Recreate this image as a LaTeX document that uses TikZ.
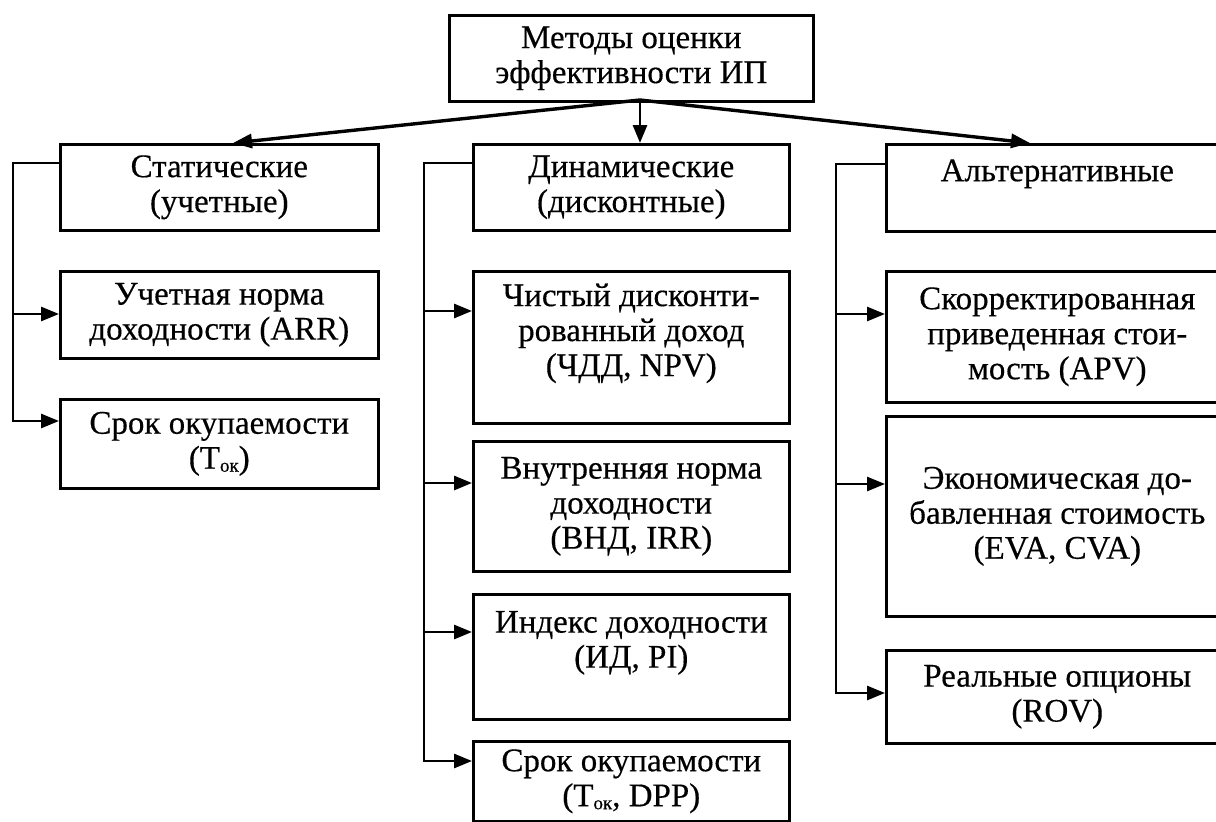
\documentclass[tikz,border=0pt]{standalone}
\usepackage{fontspec}
\setmainfont{Liberation Serif}[FakeBold=0.4]
\usetikzlibrary{arrows.meta}
\newcommand{\subok}{\raisebox{-3pt}{\fontsize{19pt}{19pt}\selectfont ок}}
\begin{document}
\begin{tikzpicture}[x=1pt,y=-1pt,
  box/.style={draw, line width=2.6pt, rectangle, inner sep=0pt, align=center,
    anchor=north west, font=\fontsize{33pt}{35pt}\selectfont},
  conn/.style={line width=2.8pt, -{Triangle[length=18pt,width=14pt]}},
  diag/.style={line width=3.4pt, -{Triangle[length=19pt,width=14pt]}}]
\useasboundingbox (0,0) rectangle (1216,822);
\fill[white] (0,0) rectangle (1216,822);

% top
\node[box, minimum width=364pt, minimum height=86pt] (top) at (448,14)
  {Методы оценки\\эффективности ИП};

% static column
\node[box, minimum width=318pt, minimum height=86pt] (stat) at (59,143)
  {Статические\\(учетные)};
\node[box, minimum width=318pt, minimum height=87pt] (arr) at (59,270)
  {Учетная норма\\доходности (ARR)};
\node[box, minimum width=318pt, minimum height=89pt] (srokA) at (59,398)
  {Срок окупаемости\\(Т\subok)};

% dynamic column
\node[box, minimum width=316pt, minimum height=86pt] (dyn) at (472,143)
  {Динамические\\(дисконтные)};
\node[box, minimum width=316pt, minimum height=152pt] (chdd) at (472,270)
  {Чистый дисконти-\\рованный доход\\(ЧДД, NPV)\\\mbox{}};
\node[box, minimum width=316pt, minimum height=130pt] (vnd) at (472,440)
  {Внутренняя норма\\доходности\\(ВНД, IRR)};
\node[box, minimum width=316pt, minimum height=125pt] (idx) at (472,593)
  {Индекс доходности\\(ИД, PI)\\\mbox{}};
\node[box, minimum width=316pt, minimum height=80pt] (srokB) at (472,740)
  {Срок окупаемости\\(Т\subok, DPP)};

% alternative column
\node[box, minimum width=342pt, minimum height=87pt] (alt) at (885,143)
  {Альтернативные\\\mbox{}};
\node[box, minimum width=342pt, minimum height=131pt] (apv) at (885,270)
  {Скорректированная\\приведенная стои-\\мость (APV)};
\node[box, minimum width=342pt, minimum height=200pt] (eva) at (885,415)
  {Экономическая до-\\бавленная стоимость\\(EVA, CVA)};
\node[box, minimum width=342pt, minimum height=93pt] (rov) at (885,649)
  {Реальные опционы\\(ROV)};

% connectors from top
\coordinate (src) at (640,100);
\coordinate (tipS) at (233,143);
\coordinate (tipA) at (1030,143);
\draw[conn] (src) -- (src |- dyn.north);
\draw[diag] (src) -- (tipS);
\draw[diag] (src) -- (tipA);

% left trunk
\coordinate (l0) at (13,163);
\coordinate (l1) at (13,314);
\coordinate (l2) at (13,421);
\draw[conn] (l0 -| stat.west) -- (l0) -- (l2) -- (l2 -| srokA.west);
\draw[conn] (l1) -- (l1 -| arr.west);

% middle trunk
\coordinate (m0) at (424,163);
\coordinate (m1) at (424,311);
\coordinate (m2) at (424,483);
\coordinate (m3) at (424,632);
\coordinate (m4) at (424,761);
\draw[conn] (m0 -| dyn.west) -- (m0) -- (m4) -- (m4 -| srokB.west);
\draw[conn] (m1) -- (m1 -| chdd.west);
\draw[conn] (m2) -- (m2 -| vnd.west);
\draw[conn] (m3) -- (m3 -| idx.west);

% right trunk
\coordinate (r0) at (836,164);
\coordinate (r1) at (836,314);
\coordinate (r2) at (836,484);
\coordinate (r3) at (836,693);
\draw[conn] (r0 -| alt.west) -- (r0) -- (r3) -- (r3 -| rov.west);
\draw[conn] (r1) -- (r1 -| apv.west);
\draw[conn] (r2) -- (r2 -| eva.west);
\end{tikzpicture}
\end{document}
